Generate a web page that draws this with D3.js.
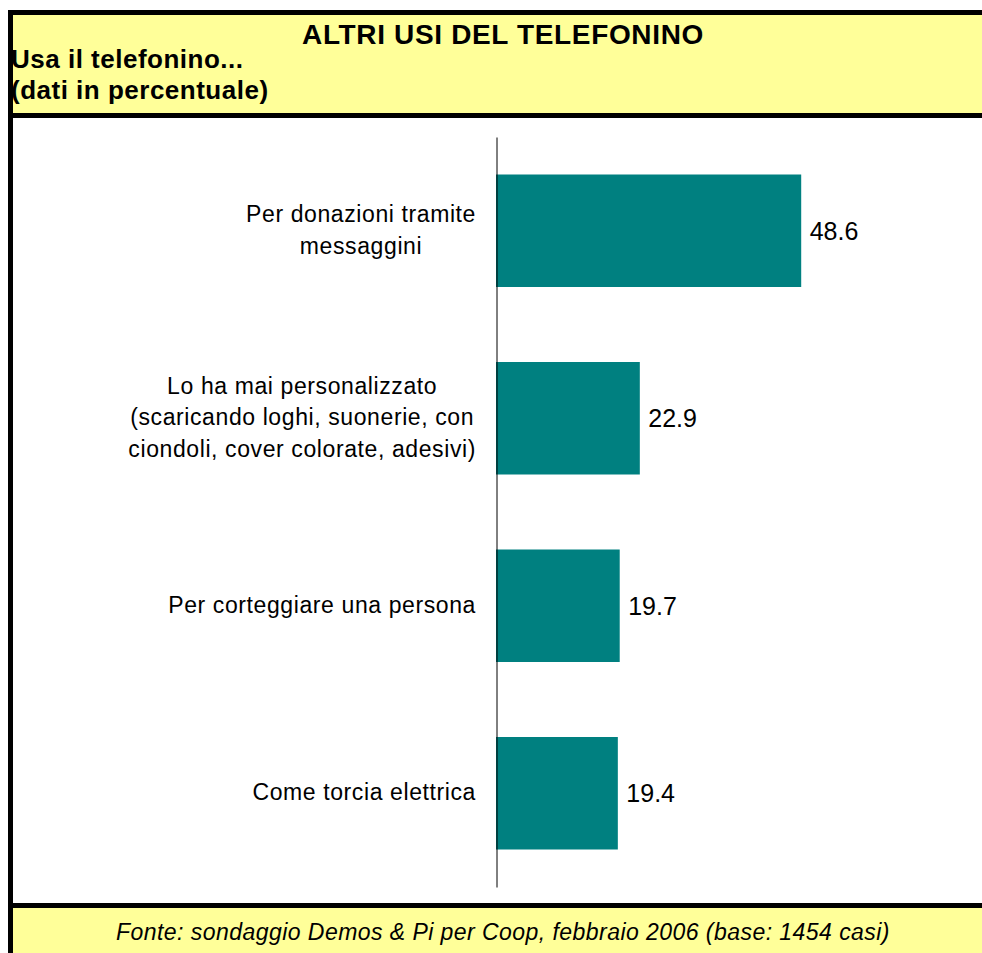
<!DOCTYPE html>
<html>
<head>
<meta charset="utf-8">
<script src="https://cdn.jsdelivr.net/npm/d3@7"></script>
<style>
  html, body { margin: 0; padding: 0; background: #fff; }
  svg { display: block; font-family: "Liberation Sans", Arial, sans-serif; }
</style>
</head>
<body>
<svg id="chart" width="982" height="953"></svg>
<script>
// data
var categories = [
  "Per donazioni tramite messaggini",
  "Lo ha mai personalizzato (scaricando loghi, suonerie, con ciondoli, cover colorate, adesivi)",
  "Per corteggiare una persona",
  "Come torcia elettrica"
];
var labelLines = [
  ["Per donazioni tramite", "messaggini"],
  ["Lo ha mai personalizzato", "(scaricando loghi, suonerie, con", "ciondoli, cover colorate, adesivi)"],
  ["Per corteggiare una persona"],
  ["Come torcia elettrica"]
];
var values = [48.6, 22.9, 19.7, 19.4];

var title = "ALTRI USI DEL TELEFONINO";
var subtitle = ["Usa il telefonino...", "(dati in percentuale)"];
var source = "Fonte: sondaggio Demos & Pi per Coop, febbraio 2006 (base: 1454 casi)";

var svg = d3.select("#chart"),
    WIDTH = 982,
    HEIGHT = 953,
    YELLOW = "#ffff99",
    TEAL = "#008080";

// header and footer bands
svg.append("rect").attr("x", 13).attr("y", 15).attr("width", WIDTH - 13).attr("height", 99).attr("fill", YELLOW);
svg.append("rect").attr("x", 13).attr("y", 908).attr("width", WIDTH - 13).attr("height", HEIGHT - 908).attr("fill", YELLOW);

// frame lines
svg.append("rect").attr("x", 8).attr("y", 10).attr("width", WIDTH - 8).attr("height", 5).attr("fill", "#000");
svg.append("rect").attr("x", 8).attr("y", 113).attr("width", WIDTH - 8).attr("height", 5).attr("fill", "#000");
svg.append("rect").attr("x", 8).attr("y", 903).attr("width", WIDTH - 8).attr("height", 5).attr("fill", "#000");
svg.append("rect").attr("x", 8).attr("y", 10).attr("width", 5).attr("height", HEIGHT - 10).attr("fill", "#000");

svg.append("text")
    .attr("x", 503).attr("y", 44)
    .attr("text-anchor", "middle")
    .style("font-size", "28px").style("font-weight", "bold").style("letter-spacing", "0.65px")
    .text(title);

svg.selectAll(".sub").data(subtitle).enter().append("text")
    .attr("class", "sub")
    .attr("x", 11).attr("y", function(d, i) { return 68 + i * 31; })
    .style("font-size", "26px").style("font-weight", "bold").style("letter-spacing", "0.5px")
    .text(function(d) { return d; });

svg.append("text")
    .attr("x", 503).attr("y", 940)
    .attr("text-anchor", "middle")
    .style("font-size", "23px").style("font-style", "italic").style("letter-spacing", "0.45px")
    .text(source);

// scales
var xScale = d3.scaleLinear().domain([0, 60]).range([496, 496 + 6.28 * 60]);
var yScale = d3.scaleBand().domain(categories).range([137, 887]).paddingInner(0.4).paddingOuter(0.2);

var plot = svg.append("g");

plot.selectAll(".bar").data(values).enter().append("rect")
    .attr("class", "bar")
    .attr("x", xScale(0))
    .attr("y", function(d, i) { return yScale(categories[i]); })
    .attr("width", function(d) { return xScale(d) - xScale(0); })
    .attr("height", yScale.bandwidth())
    .attr("fill", TEAL);

// axis line without ticks
var yAxis = d3.axisLeft(yScale).tickSize(0).tickFormat("");
plot.append("g")
    .attr("transform", "translate(" + (xScale(0) + 0.5) + ",0)")
    .call(yAxis)
    .select(".domain").attr("stroke", "#000").attr("stroke-width", 1);

plot.selectAll(".val").data(values).enter().append("text")
    .attr("class", "val")
    .attr("x", function(d) { return xScale(d) + 8.5; })
    .attr("y", function(d, i) { return yScale(categories[i]) + yScale.bandwidth() / 2 + 9; })
    .style("font-size", "25px")
    .text(function(d) { return d.toFixed(1); });

// category labels: each block right-aligned to the axis, lines centred in it
var lab = plot.selectAll(".cat").data(categories).enter().append("text")
    .attr("class", "cat")
    .style("font-size", "23px").style("letter-spacing", "0.6px")
    .attr("text-anchor", "middle");

lab.each(function(d, i) {
  var t = d3.select(this), lines = labelLines[i], n = lines.length;
  var cy = yScale(d) + yScale.bandwidth() / 2 + 7;
  lines.forEach(function(l, j) {
    t.append("tspan").attr("y", cy + (j - (n - 1) / 2) * 31.7).text(l);
  });
  var maxW = d3.max(t.selectAll("tspan").nodes(), function(s) { return s.getComputedTextLength(); });
  t.selectAll("tspan").attr("x", 476 - maxW / 2);
});
</script>
</body>
</html>
